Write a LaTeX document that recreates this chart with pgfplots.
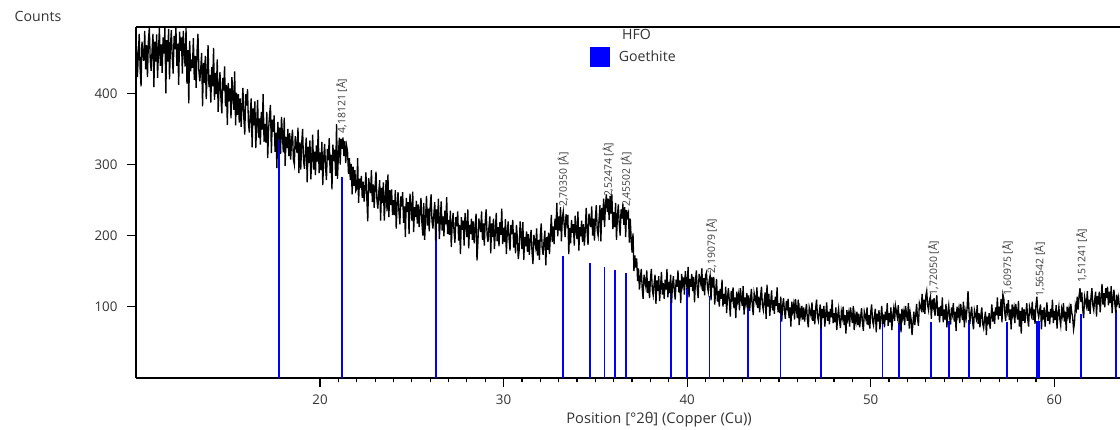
\documentclass[border=0pt]{standalone}
\usepackage{fontspec}
\setmainfont{Open Sans}
\usepackage{pgfplots}
\usepackage{pgfplotstable}
\pgfplotsset{compat=1.18}
\definecolor{txt}{HTML}{333333}
\definecolor{lbl}{HTML}{3A3A3A}
\definecolor{stick}{RGB}{0,0,255}

\pgfplotstableread{
x y
17.78 342
21.21 282
26.31 227
33.22 172
34.71 161
35.49 156
36.05 152
36.67 147
39.13 131
39.99 126
41.21 115
43.31 107
45.08 93
47.30 84
50.64 77
51.55 77
53.27 78
54.26 80
55.35 81
57.44 79
59.07 80
59.16 80
61.44 90
63.37 96
}\sticks

\pgfplotstableread{
x y
10.00 467
10.05 423
10.10 454
10.15 484
10.20 435
10.25 410
10.30 473
10.35 458
10.40 446
10.45 488
10.50 434
10.55 468
10.60 423
10.65 474
10.70 492
10.75 447
10.80 432
10.85 461
10.90 484
10.95 409
11.00 473
11.05 445
11.10 483
11.15 422
11.20 460
11.25 493
11.30 439
11.35 469
11.40 429
11.45 479
11.50 456
11.55 492
11.60 400
11.65 475
11.70 445
11.75 491
11.80 420
11.85 466
11.90 489
11.95 451
12.00 428
12.05 481
12.10 462
12.15 493
12.20 439
12.25 470
12.30 412
12.35 487
12.40 460
12.45 479
12.50 428
12.55 488
12.60 458
12.65 438
12.70 492
12.75 414
12.80 461
12.85 386
12.90 474
12.95 431
13.00 448
13.05 436
13.10 478
13.15 419
13.20 453
13.25 408
13.30 459
13.35 484
13.40 432
13.45 417
13.50 434
13.55 457
13.60 382
13.65 443
13.70 415
13.75 453
13.80 392
13.85 430
13.90 468
13.95 409
14.00 426
14.05 387
14.10 437
14.15 410
14.20 464
14.25 391
14.30 429
14.35 399
14.40 448
14.45 374
14.50 408
14.55 430
14.60 394
14.65 372
14.70 422
14.75 404
14.80 438
14.85 382
14.90 412
14.95 356
15.00 415
15.05 389
15.10 407
15.15 365
15.20 423
15.25 397
15.30 377
15.35 431
15.40 355
15.45 401
15.50 370
15.55 399
15.60 359
15.65 393
15.70 353
15.75 382
15.80 408
15.85 365
15.90 342
15.95 399
16.00 383
16.05 406
16.10 358
16.15 345
16.20 372
16.25 393
16.30 324
16.35 379
16.40 355
16.45 389
16.50 323
16.55 357
16.60 391
16.65 338
16.70 365
16.75 328
16.80 374
16.85 349
16.90 399
16.95 332
17.00 357
17.05 331
17.10 374
17.15 309
17.20 350
17.25 370
17.30 384
17.35 316
17.40 363
17.45 346
17.50 369
17.55 318
17.60 345
17.65 295
17.70 360
17.75 336
17.80 352
17.85 315
17.90 367
17.95 343
18.00 317
18.05 366
18.10 298
18.15 339
18.20 323
18.25 350
18.30 312
18.35 344
18.40 307
18.45 334
18.50 349
18.55 307
18.60 300
18.65 340
18.70 327
18.75 316
18.80 352
18.85 288
18.90 331
18.95 293
19.00 329
19.05 350
19.10 306
19.15 294
19.20 318
19.25 338
19.30 275
19.35 325
19.40 302
19.45 334
19.50 279
19.55 311
19.60 342
19.65 293
19.70 318
19.75 285
19.80 327
19.85 304
19.90 349
19.95 288
20.00 317
20.05 292
20.10 332
20.15 271
20.20 309
20.25 329
20.30 297
20.35 278
20.40 322
20.45 306
20.50 337
20.55 288
20.60 314
20.65 265
20.70 328
20.75 305
20.80 321
20.85 284
20.90 357
20.95 280
21.00 312
21.05 338
21.10 300
21.15 336
21.20 322
21.25 338
21.30 312
21.35 333
21.40 302
21.45 326
21.50 318
21.55 287
21.60 309
21.65 278
21.70 301
21.75 258
21.80 297
21.85 270
21.90 292
21.95 263
22.00 266
22.05 309
22.10 246
22.15 280
22.20 267
22.25 284
22.30 253
22.35 276
22.40 248
22.45 267
22.50 289
22.55 252
22.60 220
22.65 281
22.70 269
22.75 260
22.80 292
22.85 247
22.90 272
22.95 239
23.00 270
23.05 290
23.10 250
23.15 238
23.20 261
23.25 278
23.30 221
23.35 267
23.40 246
23.45 275
23.50 221
23.55 250
23.60 278
23.65 234
23.70 286
23.75 226
23.80 264
23.85 243
23.90 265
23.95 229
24.00 250
24.05 229
24.10 264
24.15 210
24.20 244
24.25 261
24.30 233
24.35 216
24.40 255
24.45 241
24.50 261
24.55 218
24.60 241
24.65 198
24.70 253
24.75 233
24.80 247
24.85 202
24.90 259
24.95 240
25.00 221
25.05 262
25.10 205
25.15 240
25.20 226
25.25 249
25.30 217
25.35 244
25.40 212
25.45 235
25.50 253
25.55 218
25.60 200
25.65 246
25.70 194
25.75 226
25.80 256
25.85 214
25.90 238
25.95 206
26.00 240
26.05 258
26.10 220
26.15 210
26.20 230
26.25 247
26.30 193
26.35 237
26.40 217
26.45 252
26.50 195
26.55 221
26.60 248
26.65 207
26.70 227
26.75 199
26.80 235
26.85 216
26.90 254
26.95 202
27.00 222
27.05 201
27.10 235
27.15 184
27.20 216
27.25 232
27.30 206
27.35 190
27.40 226
27.45 213
27.50 234
27.55 193
27.60 215
27.65 174
27.70 226
27.75 208
27.80 221
27.85 186
27.90 232
27.95 213
28.00 198
28.05 237
28.10 182
28.15 215
28.20 202
28.25 224
28.30 194
28.35 220
28.40 189
28.45 211
28.50 231
28.55 165
28.60 190
28.65 224
28.70 214
28.75 205
28.80 234
28.85 194
28.90 217
28.95 186
29.00 220
29.05 237
29.10 201
29.15 191
29.20 211
29.25 227
29.30 175
29.35 217
29.40 198
29.45 224
29.50 181
29.55 206
29.60 232
29.65 192
29.70 212
29.75 185
29.80 219
29.85 201
29.90 238
29.95 188
30.00 211
30.05 191
30.10 223
30.15 174
30.20 205
30.25 220
30.30 195
30.35 179
30.40 215
30.45 202
30.50 222
30.55 183
30.60 204
30.65 175
30.70 215
30.75 197
30.80 167
30.85 180
30.90 220
30.95 202
31.00 181
31.05 219
31.10 166
31.15 198
31.20 185
31.25 206
31.30 177
31.35 202
31.40 173
31.45 194
31.50 208
31.55 176
31.60 160
31.65 201
31.70 191
31.75 183
31.80 210
31.85 172
31.90 194
31.95 166
32.00 200
32.05 217
32.10 183
32.15 173
32.20 192
32.25 207
32.30 158
32.35 198
32.40 180
32.45 204
32.50 174
32.55 201
32.60 229
32.65 191
32.70 213
32.75 188
32.80 224
32.85 208
32.90 246
32.95 199
33.00 227
33.05 207
33.10 240
33.15 192
33.20 225
33.25 234
33.30 215
33.35 198
33.40 230
33.45 218
33.50 229
33.55 174
33.60 211
33.65 189
33.70 222
33.75 204
33.80 216
33.85 186
33.90 228
33.95 209
34.00 195
34.05 234
34.10 179
34.15 212
34.20 199
34.25 221
34.30 191
34.35 216
34.40 186
34.45 208
34.50 239
34.55 205
34.60 187
34.65 231
34.70 221
34.75 212
34.80 241
34.85 200
34.90 224
34.95 193
35.00 224
35.05 243
35.10 208
35.15 200
35.20 223
35.25 243
35.30 192
35.35 239
35.40 222
35.45 252
35.50 212
35.55 244
35.60 258
35.65 233
35.70 252
35.75 222
35.80 256
35.85 231
35.90 258
35.95 209
36.00 233
36.05 212
36.10 246
36.15 194
36.20 227
36.25 244
36.30 216
36.35 200
36.40 237
36.45 224
36.50 245
36.55 215
36.60 240
36.65 198
36.70 236
36.75 227
36.80 232
36.85 190
36.90 224
36.95 195
37.00 176
37.05 203
37.10 150
37.15 172
37.20 155
37.25 168
37.30 136
37.35 154
37.40 124
37.45 140
37.50 153
37.55 126
37.60 111
37.65 145
37.70 136
37.75 128
37.80 151
37.85 119
37.90 136
37.95 112
38.00 139
38.05 153
38.10 124
38.15 116
38.20 132
38.25 145
38.30 104
38.35 137
38.40 122
38.45 143
38.50 108
38.55 128
38.60 149
38.65 117
38.70 133
38.75 111
38.80 138
38.85 124
38.90 153
38.95 113
39.00 135
39.05 119
39.10 145
39.15 105
39.20 130
39.25 143
39.30 122
39.35 110
39.40 138
39.45 128
39.50 151
39.55 120
39.60 137
39.65 105
39.70 146
39.75 131
39.80 141
39.85 117
39.90 150
39.95 135
40.00 125
40.05 156
40.10 113
40.15 139
40.20 128
40.25 146
40.30 122
40.35 142
40.40 106
40.45 135
40.50 151
40.55 125
40.60 112
40.65 146
40.70 138
40.75 131
40.80 154
40.85 122
40.90 140
40.95 116
41.00 144
41.05 148
41.10 129
41.15 121
41.20 137
41.25 144
41.30 109
41.35 142
41.40 127
41.45 142
41.50 103
41.55 121
41.60 139
41.65 107
41.70 122
41.75 100
41.80 125
41.85 111
41.90 138
41.95 100
42.00 118
42.05 104
42.10 128
42.15 91
42.20 114
42.25 126
42.30 107
42.35 86
42.40 122
42.45 112
42.50 127
42.55 98
42.60 113
42.65 84
42.70 121
42.75 108
42.80 117
42.85 95
42.90 126
42.95 112
43.00 101
43.05 129
43.10 89
43.15 113
43.20 104
43.25 119
43.30 98
43.35 116
43.40 94
43.45 110
43.50 125
43.55 101
43.60 88
43.65 119
43.70 112
43.75 106
43.80 127
43.85 98
43.90 114
43.95 92
44.00 115
44.05 128
44.10 102
44.15 95
44.20 109
44.25 120
44.30 83
44.35 131
44.40 100
44.45 118
44.50 87
44.55 105
44.60 123
44.65 95
44.70 109
44.75 90
44.80 114
44.85 101
44.90 127
44.95 92
45.00 105
45.05 91
45.10 114
45.15 79
45.20 101
45.25 112
45.30 94
45.35 83
45.40 108
45.45 99
45.50 111
45.55 84
45.60 99
45.65 72
45.70 107
45.75 94
45.80 103
45.85 82
45.90 111
45.95 98
46.00 84
46.05 110
46.10 74
46.15 96
46.20 87
46.25 101
46.30 82
46.35 99
46.40 79
46.45 93
46.50 104
46.55 82
46.60 71
46.65 99
46.70 93
46.75 87
46.80 106
46.85 80
46.90 95
46.95 75
47.00 98
47.05 110
47.10 86
47.15 80
47.20 93
47.25 103
47.30 69
47.35 97
47.40 84
47.45 101
47.50 72
47.55 89
47.60 106
47.65 80
47.70 93
47.75 75
47.80 97
47.85 85
47.90 110
47.95 77
48.00 91
48.05 78
48.10 99
48.15 67
48.20 87
48.25 97
48.30 80
48.35 70
48.40 93
48.45 85
48.50 100
48.55 74
48.60 88
48.65 62
48.70 95
48.75 83
48.80 91
48.85 72
48.90 99
48.95 87
49.00 77
49.05 101
49.10 67
49.15 88
49.20 79
49.25 93
49.30 74
49.35 90
49.40 71
49.45 85
49.50 98
49.55 77
49.60 66
49.65 93
49.70 87
49.75 81
49.80 99
49.85 74
49.90 88
49.95 69
50.00 92
50.05 103
50.10 80
50.15 74
50.20 87
50.25 97
50.30 64
50.35 90
50.40 79
50.45 95
50.50 68
50.55 85
50.60 101
50.65 76
50.70 89
50.75 71
50.80 93
50.85 81
50.90 105
50.95 73
51.00 91
51.05 78
51.10 99
51.15 67
51.20 87
51.25 97
51.30 80
51.35 101
51.40 93
51.45 85
51.50 102
51.55 76
51.60 90
51.65 64
51.70 97
51.75 85
51.80 93
51.85 74
51.90 101
51.95 89
52.00 80
52.05 105
52.10 69
52.15 91
52.20 82
52.25 60
52.30 77
52.35 93
52.40 74
52.45 88
52.50 104
52.55 83
52.60 73
52.65 105
52.70 100
52.75 96
52.80 118
52.85 92
52.90 110
52.95 90
53.00 115
53.05 122
53.10 102
53.15 95
53.20 109
53.25 114
53.30 83
53.35 110
53.40 100
53.45 112
53.50 87
53.55 103
53.60 116
53.65 87
53.70 99
53.75 78
53.80 101
53.85 87
53.90 113
53.95 78
54.00 96
54.05 82
54.10 104
54.15 71
54.20 92
54.25 102
54.30 85
54.35 75
54.40 99
54.45 90
54.50 105
54.55 79
54.60 93
54.65 66
54.70 100
54.75 88
54.80 97
54.85 77
54.90 104
54.95 92
55.00 81
55.05 107
55.10 71
55.15 93
55.20 84
55.25 98
55.30 122
55.35 96
55.40 76
55.45 90
55.50 100
55.55 79
55.60 68
55.65 95
55.70 89
55.75 83
55.80 102
55.85 76
55.90 91
55.95 71
56.00 88
56.05 99
56.10 76
56.15 70
56.20 83
56.25 93
56.30 60
56.35 86
56.40 75
56.45 91
56.50 69
56.55 86
56.60 103
56.65 79
56.70 93
56.75 76
56.80 99
56.85 88
56.90 113
56.95 82
57.00 100
57.05 87
57.10 111
57.15 78
57.20 117
57.25 111
57.30 92
57.35 80
57.40 104
57.45 94
57.50 109
57.55 81
57.60 96
57.65 68
57.70 103
57.75 89
57.80 98
57.85 77
57.90 104
57.95 92
58.00 82
58.05 108
58.10 72
58.15 94
58.20 62
58.25 99
58.30 80
58.35 97
58.40 77
58.45 91
58.50 105
58.55 83
58.60 72
58.65 100
58.70 94
58.75 88
58.80 107
58.85 81
58.90 96
58.95 76
59.00 102
59.05 114
59.10 93
59.15 85
59.20 95
59.25 103
59.30 68
59.35 95
59.40 82
59.45 99
59.50 72
59.55 89
59.60 106
59.65 80
59.70 93
59.75 75
59.80 97
59.85 85
59.90 110
59.95 77
60.00 94
60.05 81
60.10 102
60.15 69
60.20 90
60.25 100
60.30 83
60.35 74
60.40 96
60.45 88
60.50 105
60.55 79
60.60 93
60.65 66
60.70 100
60.75 88
60.80 97
60.85 77
60.90 104
60.95 92
61.00 85
61.05 68
61.10 77
61.15 102
61.20 96
61.25 114
61.30 96
61.35 115
61.40 126
61.45 107
61.50 120
61.55 96
61.60 84
61.65 114
61.70 107
61.75 101
61.80 122
61.85 94
61.90 110
61.95 90
62.00 114
62.05 126
62.10 102
62.15 95
62.20 110
62.25 121
62.30 86
62.35 115
62.40 103
62.45 121
62.50 92
62.55 112
62.60 132
62.65 103
62.70 119
62.75 99
62.80 126
62.85 112
62.90 128
62.95 102
63.00 121
63.05 105
63.10 129
63.15 91
63.20 113
63.25 124
63.30 104
63.35 91
63.40 117
63.45 106
63.50 113
63.55 98
}\hfo

\begin{document}
\begin{tikzpicture}
\useasboundingbox (-101.8pt,-38.5pt) rectangle (738.2pt,283.3pt);
\begin{axis}[
  scale only axis,
  width=738.2pt, height=263.3pt,
  xmin=9.96, xmax=63.58,
  ymin=0, ymax=494,
  clip mode=individual,
  axis x line*=box,
  axis y line*=left,
  xtick pos=bottom, ytick pos=left,
  axis line style={line width=1.5pt, black},
  tick align=outside,
  xtick={20,30,40,50,60},
  ytick={100,200,300,400},
  minor x tick num=9,
  major tick length=6.8pt,
  minor tick length=3.4pt,
  every tick/.style={black, line width=0.9pt},
  /pgf/number format/assume math mode=true,
  tick label style={font=\fontsize{10}{12}\selectfont, text=txt},
  xticklabel style={yshift=-2.5pt},
  yticklabel style={xshift=-3.4pt},
  xlabel={Position [°2θ] (Copper (Cu))},
  ylabel={Counts},
  every axis x label/.style={at={(rel axis cs:0.5317,0)}, anchor=center, yshift=-31.7pt, font=\fontsize{11}{13}\selectfont, text=txt},
  every axis y label/.style={at={(rel axis cs:0,1)}, anchor=west, xshift=-94.3pt, yshift=7.3pt, font=\fontsize{10.6}{12}\selectfont, text=txt},
  legend style={at={(rel axis cs:0.461,1.0)}, anchor=north west, draw=none, fill=none,
    font=\fontsize{10.6}{12.5}\selectfont, text=txt, row sep=1.5pt, inner sep=0pt,
    /tikz/every even column/.append style={column sep=0pt}},
  legend cell align=left,
]
\addlegendimage{empty legend}
\addlegendentry{\hspace{7pt}HFO}
\addplot[ycomb, stick, line width=1.3pt, mark=none,
  legend image code/.code={\fill[stick] (0pt,-7pt) rectangle (14pt,7pt);}]
  table[x=x, y=y] {\sticks};
\addlegendentry{\hspace{4.5pt}Goethite}
\addplot[black, line width=1pt, mark=none, forget plot] table[x=x, y=y] {\hfo};

\begin{scope}[every node/.style={rotate=90, anchor=west, inner sep=0pt, text=lbl, font=\fontsize{7.8}{9}\selectfont}]
\node at (axis cs:21.18,344) {4,18121 [Å]};
\node at (axis cs:33.25,240) {2,70350 [Å]};
\node at (axis cs:35.69,254) {2,52474 [Å]};
\node at (axis cs:36.67,240) {2,45502 [Å]};
\node at (axis cs:41.32,147) {2,19079 [Å]};
\node at (axis cs:53.41,116) {1,72050 [Å]};
\node at (axis cs:57.44,116) {1,60975 [Å]};
\node at (axis cs:59.20,114) {1,56542 [Å]};
\node at (axis cs:61.49,133) {1,51241 [Å]};
\end{scope}
\end{axis}
\end{tikzpicture}
\end{document}
